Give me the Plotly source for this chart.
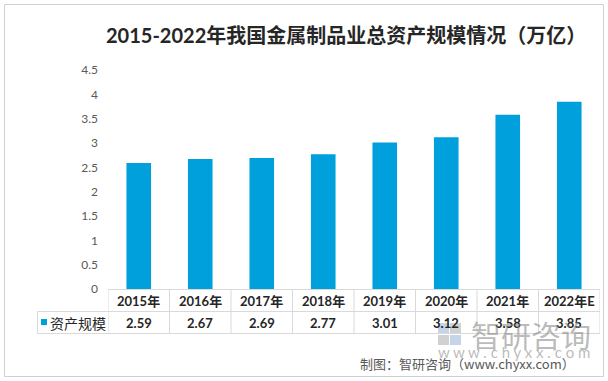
import plotly.graph_objects as go

categories = ["2015年", "2016年", "2017年", "2018年", "2019年", "2020年", "2021年", "2022年E"]
values = [2.59, 2.67, 2.69, 2.77, 3.01, 3.12, 3.58, 3.85]
value_labels = ["2.59", "2.67", "2.69", "2.77", "3.01", "3.12", "3.58", "3.85"]
series_name = "资产规模"
y_ticks = [0, 0.5, 1, 1.5, 2, 2.5, 3, 3.5, 4, 4.5]
title_text = "<b>2015-2022年我国金属制品业总资产规模情况（万亿）</b>"
source_text = "制图：智研咨询（www.chyxx.com）"

W, H = 608, 381
L, R, T, B = 108, 8, 70, 92
PW, PH = W - L - R, H - T - B

def px(x):
    return (x - L) / PW

def py(y):
    return (H - B - y) / PH

BAR = "#00A0DC"
GRID = "#D9D9D9"
TXT = "#262626"
LAT = "Lato, 'Noto Sans CJK SC', sans-serif"
CJK = "'Noto Sans CJK SC', sans-serif"

fig = go.Figure()
fig.add_trace(go.Bar(x=categories, y=values, marker_color=BAR, marker_line_width=0,
                     name=series_name, showlegend=False))

shapes = []
annotations = []

# outer border
shapes.append(dict(type="rect", xref="paper", yref="paper", x0=px(4.5), x1=px(603.5),
                   y0=py(376.5), y1=py(4.5), line=dict(color="#D0D0D0", width=1)))

# table lines
row1_top, row1_bot, row2_bot = py(289.5), py(311.5), py(333.5)
n = len(categories)
for i in range(n + 1):
    shapes.append(dict(type="line", xref="x", yref="paper", x0=i - 0.5, x1=i - 0.5,
                       y0=row2_bot, y1=row1_top, line=dict(color=GRID, width=1)))
shapes.append(dict(type="line", xref="paper", yref="paper", x0=0, x1=1,
                   y0=row1_top, y1=row1_top, line=dict(color=GRID, width=1)))
shapes.append(dict(type="line", xref="paper", yref="paper", x0=px(37.5), x1=1,
                   y0=row1_bot, y1=row1_bot, line=dict(color=GRID, width=1)))
shapes.append(dict(type="line", xref="paper", yref="paper", x0=px(37.5), x1=1,
                   y0=row2_bot, y1=row2_bot, line=dict(color=GRID, width=1)))
shapes.append(dict(type="line", xref="paper", yref="paper", x0=px(37.5), x1=px(37.5),
                   y0=row2_bot, y1=row1_bot, line=dict(color=GRID, width=1)))
# legend key
shapes.append(dict(type="rect", xref="paper", yref="paper", x0=px(41), x1=px(47),
                   y0=py(325), y1=py(319), fillcolor=BAR, line=dict(width=0)))

for i, (c, v) in enumerate(zip(categories, value_labels)):
    annotations.append(dict(x=i, y=(row1_top + row1_bot) / 2, xref="x", yref="paper",
                            xanchor="center", yanchor="middle",
                            text="<b>" + c + "</b>", showarrow=False,
                            font=dict(family=LAT, size=13, color=TXT)))
    annotations.append(dict(x=i, y=(row1_bot + row2_bot) / 2, xref="x", yref="paper",
                            xanchor="center", yanchor="middle",
                            text="<b>" + v + "</b>", showarrow=False,
                            font=dict(family=LAT, size=13, color=TXT)))
annotations.append(dict(x=px(48), y=(row1_bot + row2_bot) / 2, xref="paper", yref="paper",
                        xanchor="left", yanchor="middle", text=series_name, showarrow=False,
                        font=dict(family=CJK, size=14, color=TXT)))

# watermark
wm_grey = "rgba(128,128,128,0.55)"
shapes.append(dict(type="rect", xref="paper", yref="paper", x0=px(438), x1=px(449),
                   y0=py(333), y1=py(323), fillcolor="rgba(110,150,200,0.4)", line=dict(width=0)))
shapes.append(dict(type="rect", xref="paper", yref="paper", x0=px(450), x1=px(461),
                   y0=py(333), y1=py(323), fillcolor="rgba(140,140,140,0.4)", line=dict(width=0)))
shapes.append(dict(type="rect", xref="paper", yref="paper", x0=px(438), x1=px(449),
                   y0=py(345), y1=py(335), fillcolor="rgba(140,140,140,0.4)", line=dict(width=0)))
shapes.append(dict(type="rect", xref="paper", yref="paper", x0=px(450), x1=px(461),
                   y0=py(345), y1=py(335), fillcolor="rgba(110,150,200,0.4)", line=dict(width=0)))
annotations.append(dict(x=px(469), y=py(334), xref="paper", yref="paper", xanchor="left",
                        yanchor="middle", text="智研咨询", showarrow=False,
                        font=dict(family=CJK, size=30, color=wm_grey)))
annotations.append(dict(x=px(436), y=py(352), xref="paper", yref="paper", xanchor="left",
                        yanchor="middle", text="w w w . c h y x x . c o m", showarrow=False,
                        font=dict(family=LAT, size=15, color=wm_grey)))

annotations.append(dict(x=px(577), y=py(363), xref="paper", yref="paper", xanchor="right",
                        yanchor="middle", text=source_text, showarrow=False,
                        font=dict(family=CJK, size=13, color="#595959")))

annotations.append(dict(x=px(346), y=py(35), xref="paper", yref="paper",
                        xanchor="center", yanchor="middle",
                        text=title_text, showarrow=False,
                        font=dict(family=LAT, size=20, color=TXT)))

fig.update_layout(
    width=W, height=H,
    margin=dict(l=L, r=R, t=T, b=B, pad=0),
    paper_bgcolor="white", plot_bgcolor="white",
    bargap=0.6,
    shapes=shapes, annotations=annotations,
    xaxis=dict(showticklabels=False, showgrid=False, zeroline=False, showline=False,
               ticks="", range=[-0.5, n - 0.5], fixedrange=True),
    yaxis=dict(range=[0, 4.5], tickvals=y_ticks, ticktext=[f"{t:g}" for t in y_ticks],
               showgrid=False, zeroline=False, showline=False, ticks="",
               ticklabelstandoff=9,
               tickfont=dict(family=LAT, size=12, color="#595959")),
)

fig.write_html("out.html", config={"displayModeBar": False},
               post_script="document.body.style.margin='0';document.body.style.overflow='hidden';")
